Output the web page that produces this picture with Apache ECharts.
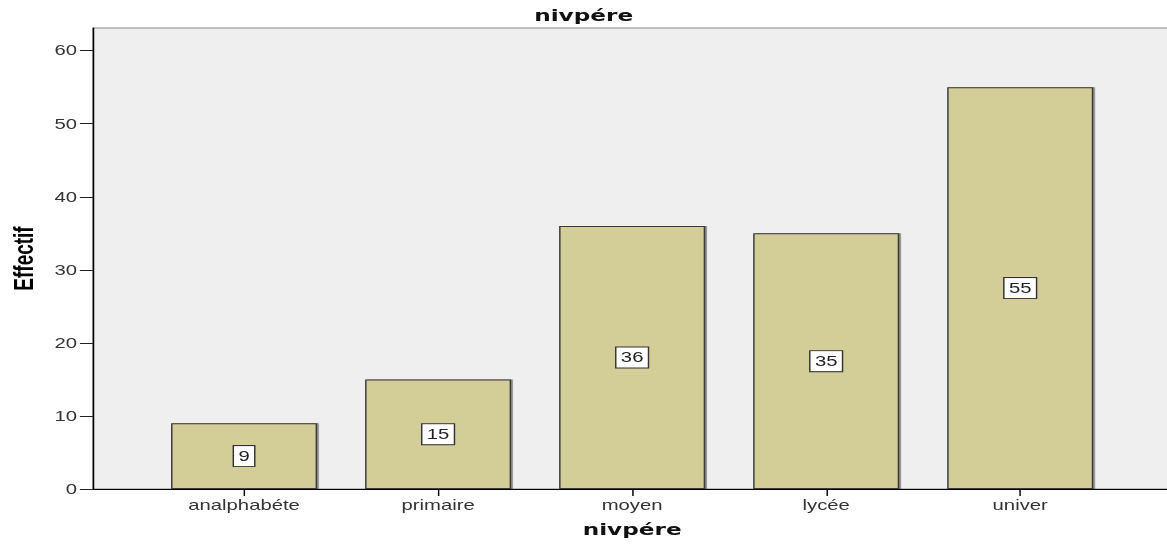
<!DOCTYPE html>
<html>
<head>
<meta charset="utf-8">
<title>nivpére</title>
<script src="https://cdn.jsdelivr.net/npm/echarts@6/dist/echarts.min.js"></script>
<style>
  html, body { margin: 0; padding: 0; background: #fff; overflow: hidden; }
  /* The chart is laid out narrower and widened horizontally, giving the
     broad, stretched lettering of the printed output. */
  #chart { width: 804.8px; height: 547px; transform: scaleX(1.45); transform-origin: 0 0; }
</style>
</head>
<body>
<div id="chart"></div>
<script>
// Father's education level: counts per category
const categories = ['analphabéte', 'primaire', 'moyen', 'lycée', 'univer'];
const counts = [9, 15, 36, 35, 55];
const yTicks = [0, 10, 20, 30, 40, 50, 60];
const yMax = 63.1;

const FONT = '"Liberation Sans", Arial, sans-serif';

const chart = echarts.init(document.getElementById('chart'), null, { renderer: 'svg' });

chart.setOption({
  animation: false,
  backgroundColor: '#ffffff',
  title: {
    text: 'nivpére',
    left: 'center',
    top: 3,
    textStyle: { fontFamily: '"DejaVu Sans", sans-serif', fontWeight: 'bold', fontSize: 16, color: '#111' }
  },
  grid: [
    // plot frame with the value axis
    { left: 64.1, right: -6, top: 28, bottom: 58, show: true, backgroundColor: '#efefef', borderColor: '#8a8a8a', borderWidth: 1, outerBoundsMode: 'none', containLabel: false },
    // bar area
    { left: 101.4, right: 34.5, top: 28, bottom: 58, show: false, outerBoundsMode: 'none', containLabel: false }
  ],
  xAxis: [
    {
      gridIndex: 0, type: 'value', min: 0, max: 1,
      axisLine: { show: true, lineStyle: { color: '#000', width: 1 } },
      axisTick: { show: false }, axisLabel: { show: false }, splitLine: { show: false }
    },
    {
      gridIndex: 1, type: 'category', data: categories, boundaryGap: true,
      axisLine: { show: false },
      axisTick: { show: true, alignWithLabel: true, length: 7, lineStyle: { color: '#000', width: 1 } },
      axisLabel: { fontFamily: FONT, fontSize: 14, color: '#333', margin: 9 },
      name: 'nivpére', nameLocation: 'middle', nameGap: 33,
      nameTextStyle: { fontFamily: '"DejaVu Sans", sans-serif', fontWeight: 'bold', fontSize: 16, color: '#111' },
      splitLine: { show: false }
    }
  ],
  yAxis: [
    {
      gridIndex: 0, type: 'value', min: 0, max: yMax,
      axisLine: { show: true, lineStyle: { color: '#000', width: 1 } },
      axisTick: { show: true, length: 9, lineStyle: { color: '#222', width: 1 }, customValues: yTicks },
      axisLabel: { fontFamily: FONT, fontSize: 14, color: '#333', margin: 11, customValues: yTicks },
      splitLine: { show: false },
      name: 'Effectif', nameLocation: 'middle', nameGap: 38, nameRotate: 90,
      nameTextStyle: { fontFamily: FONT, fontWeight: 'bold', fontSize: 19, color: '#000' }
    },
    {
      gridIndex: 1, type: 'value', min: 0, max: yMax, show: false,
      splitLine: { show: false }
    }
  ],
  series: [
    {
      type: 'bar',
      xAxisIndex: 1, yAxisIndex: 1,
      data: counts,
      barWidth: 100.7,
      itemStyle: {
        color: '#d3cd97',
        borderColor: '#3a3a3a',
        borderWidth: 1,
        shadowColor: 'rgba(0,0,0,0.45)',
        shadowOffsetX: 1.2,
        shadowOffsetY: 0,
        shadowBlur: 0
      },
      label: {
        show: true,
        position: 'inside',
        fontFamily: FONT,
        fontSize: 14,
        color: '#222',
        backgroundColor: '#ffffff',
        borderColor: '#333',
        borderWidth: 1,
        padding: [3, 3, 3, 3]
      }
    }
  ]
});
</script>
</body>
</html>
